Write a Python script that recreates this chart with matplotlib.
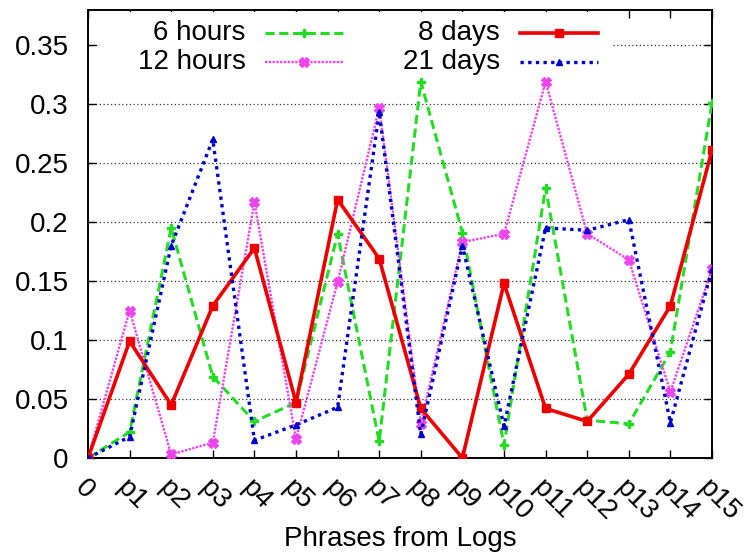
import matplotlib
matplotlib.use("Agg")
import matplotlib.pyplot as plt
from matplotlib.lines import Line2D
from matplotlib.patches import Rectangle

plt.rcParams["font.family"] = ["Liberation Sans", "DejaVu Sans"]

phrases = ["0"] + ["p%d" % i for i in range(1, 16)]
x = list(range(len(phrases)))

six_hours = [0, 0.022, 0.195, 0.069, 0.031, 0.047, 0.19, 0.014, 0.319, 0.191,
             0.011, 0.229, 0.032, 0.029, 0.09, 0.301]
twelve_hours = [0, 0.125, 0.003, 0.013, 0.217, 0.016, 0.149, 0.297, 0.029, 0.183,
                0.19, 0.319, 0.19, 0.168, 0.056, 0.16]
eight_days = [0, 0.099, 0.045, 0.129, 0.178, 0.047, 0.219, 0.169, 0.042, 0,
              0.148, 0.042, 0.031, 0.071, 0.129, 0.261]
twentyone_days = [0, 0.018, 0.18, 0.27, 0.015, 0.028, 0.043, 0.293, 0.02, 0.18,
                  0.027, 0.195, 0.193, 0.202, 0.03, 0.16]

yticks = [0, 0.05, 0.1, 0.15, 0.2, 0.25, 0.3, 0.35]
ytick_labels = ["0", "0.05", "0.1", "0.15", "0.2", "0.25", "0.3", "0.35"]

series = [
    ("6 hours", six_hours, dict(color="#22dd22", ls=(0, (3, 1.5)), lw=2.2,
                                marker="P", ms=6)),
    ("12 hours", twelve_hours, dict(color="#ee44ee", ls=(0, (1, 0.6)), lw=1.7,
                                    marker="X", ms=7)),
    ("8 days", eight_days, dict(color="#ee0000", ls="-", lw=2.6,
                                marker="s", ms=6)),
    ("21 days", twentyone_days, dict(color="#0000cc", ls=(0, (1, 1.3)), lw=2.4,
                                     marker="^", ms=5)),
]

FS = 20

fig = plt.figure(figsize=(7.55, 5.56), dpi=100)
ax = fig.add_axes([88 / 755, 1 - 458 / 556, 624 / 755, 448 / 556])

for name, vals, st in series:
    ax.plot(x, vals, markeredgecolor=st["color"], zorder=3, **st)

ax.set_xlim(0, 15)
ax.set_ylim(0, 0.3797)
ax.set_yticks(yticks)
ax.set_yticklabels(ytick_labels)
ax.set_xticks(x)
ax.set_xticklabels(phrases, rotation=-45, ha="left", va="top",
                   rotation_mode="anchor")
ax.tick_params(direction="in", length=6, width=1, labelsize=FS, top=True,
               right=True)
ax.tick_params(axis="y", pad=14)
ax.tick_params(axis="x", pad=12)
ax.yaxis.grid(True, linestyle=(0, (1, 2)), color="#333333", lw=0.9)
ax.set_axisbelow(True)
for sp in ax.spines.values():
    sp.set_linewidth(1.4)
ax.set_xlabel("Phrases from Logs", fontsize=FS, labelpad=0)

# gnuplot-style key with white background
ax.add_patch(Rectangle((0.02, 0.85), 0.82, 0.145, transform=ax.transAxes,
                       facecolor="white", edgecolor="none", zorder=2))
key_pos = [(0.253, 0.949, 0.284, 0.409), (0.253, 0.884, 0.284, 0.409),
           (0.660, 0.949, 0.692, 0.817), (0.660, 0.884, 0.692, 0.817)]
for (name, vals, st), (tx, ty, x0, x1) in zip(series, key_pos):
    ax.text(tx, ty, name, transform=ax.transAxes, ha="right", va="center",
            fontsize=FS, zorder=4)
    ax.add_line(Line2D([x0, x1], [ty, ty], transform=ax.transAxes,
                       color=st["color"], ls=st["ls"], lw=st["lw"], zorder=4))
    ax.add_line(Line2D([(x0 + x1) / 2], [ty], transform=ax.transAxes,
                       color=st["color"], marker=st["marker"], ms=st["ms"],
                       ls="none", zorder=4))

fig.savefig("out.png", dpi=100)
